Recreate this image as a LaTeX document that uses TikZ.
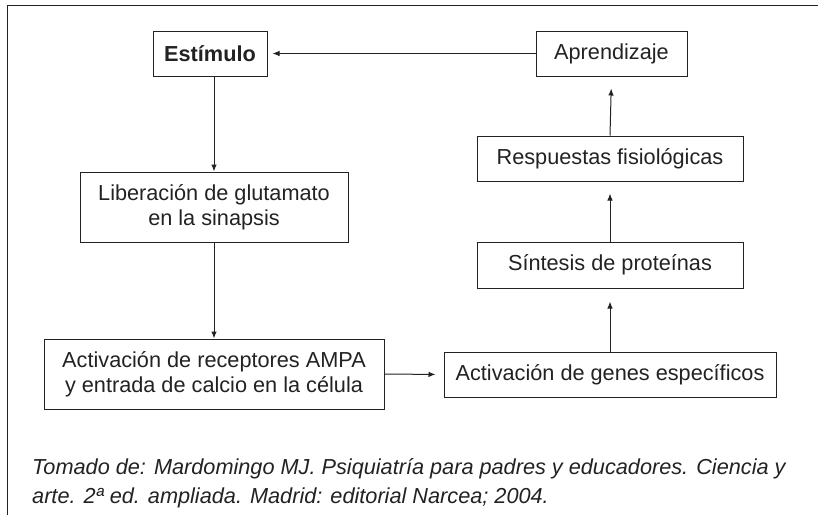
\documentclass[tikz,border=0pt]{standalone}
\usepackage{fontspec}
\setmainfont{Liberation Sans}
\usetikzlibrary{arrows.meta}
\definecolor{ink}{HTML}{222222}
\tikzset{
  box/.style={draw=ink, line width=1pt, inner sep=0pt, align=center, text=ink,
    font=\fontsize{21.7}{25}\selectfont},
  arr/.style={draw=ink, line width=1pt, -{Latex[length=7pt,width=5.5pt]}},
  captxt/.style={anchor=base west, inner sep=0pt, text=ink,
    font=\fontsize{21.7}{29}\selectfont\itshape}
}
\begin{document}
\begin{tikzpicture}[x=1pt,y=-1pt]
\useasboundingbox (0,0) rectangle (818,515);
\draw[ink, line width=1pt] (7,515) -- (7,5) -- (818,5);
\node[box, minimum width=114pt, minimum height=45pt, font=\fontsize{21.7}{25}\selectfont\bfseries] (est) at (210,53.5) {Estímulo};
\node[box, minimum width=151pt, minimum height=45pt] (apr) at (611.5,53.5) {Aprendizaje};
\node[box, minimum width=268pt, minimum height=70pt] (lib) at (214,207) {Liberación de glutamato\\en la sinapsis};
\node[box, minimum width=340pt, minimum height=70pt] (ampa) at (214,374) {Activación de receptores AMPA\\y entrada de calcio en la célula};
\node[box, minimum width=332pt, minimum height=45pt] (gen) at (610,374.5) {Activación de genes específicos};
\node[box, minimum width=266pt, minimum height=46pt] (sin) at (610,265) {Síntesis de proteínas};
\node[box, minimum width=266pt, minimum height=45pt] (res) at (610,158.5) {Respuestas fisiológicas};
\draw[arr, shorten >=5pt] (apr.west) -- (est.east);
\draw[arr] (est.south -| lib.north) -- (lib.north);
\draw[arr] (lib.south) -- (ampa.north);
\draw[arr, shorten >=8pt] (ampa.east) -- (gen.west);
\draw[arr, shorten >=13pt] (gen.north) -- (sin.south);
\draw[arr, shorten >=12pt] (sin.north) -- (res.south);
\draw[arr, shorten >=12pt] (res.north) -- (apr.south);
\node[captxt] (cap1) at (32,474) {Tomado de: Mardomingo MJ. Psiquiatría para padres y educadores. Ciencia y};
\node[captxt] (cap2) at (32,503) {arte. 2ª ed. ampliada. Madrid: editorial Narcea; 2004.};
\end{tikzpicture}
\end{document}
